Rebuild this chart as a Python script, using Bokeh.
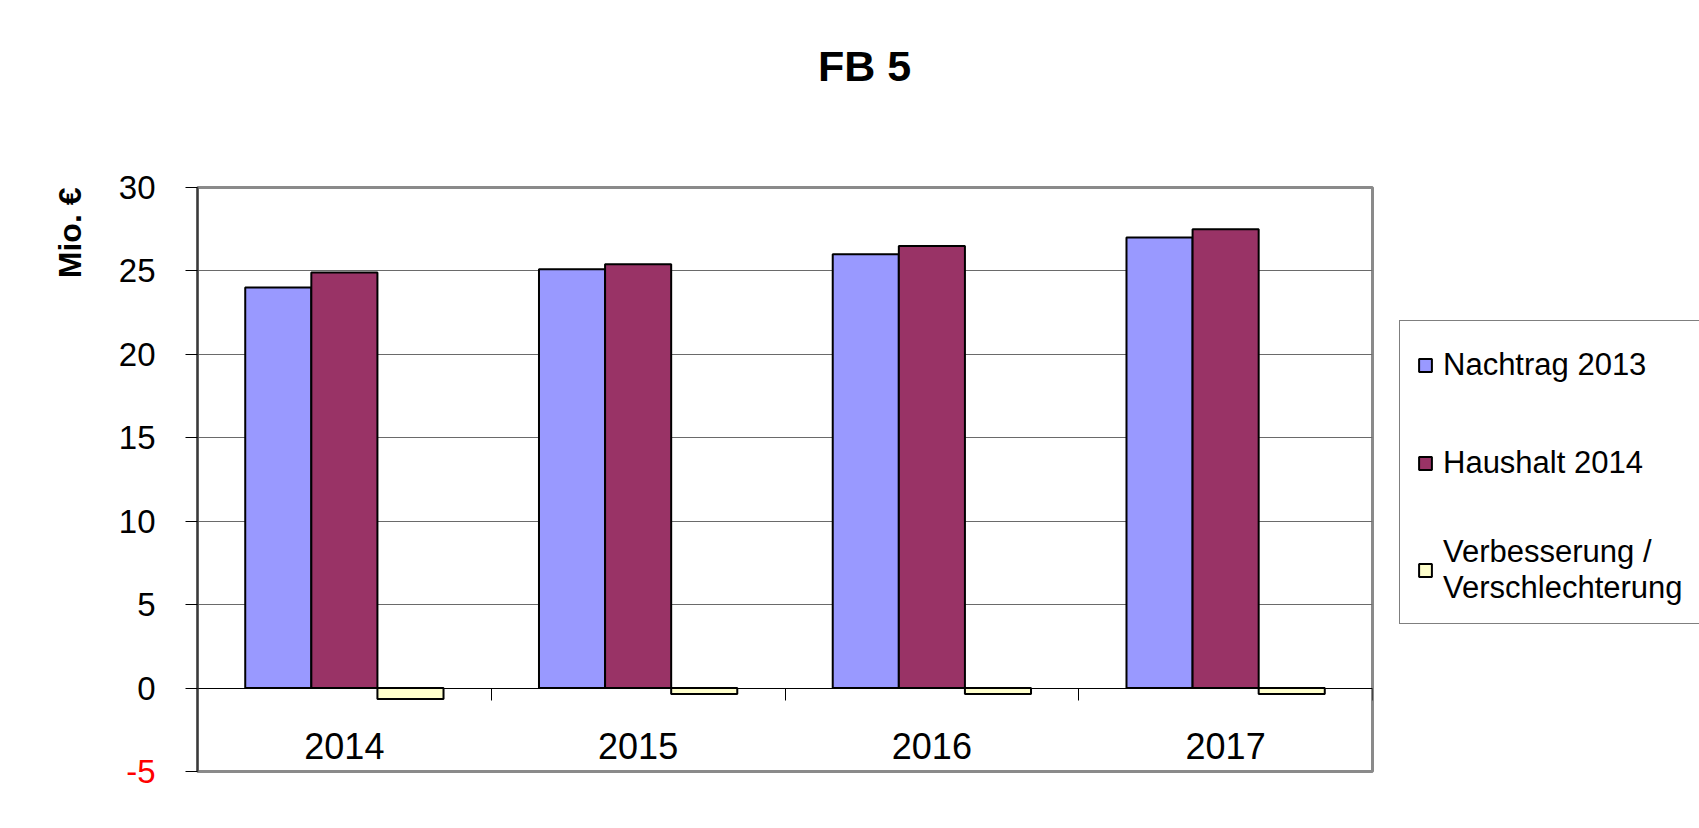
from bokeh.plotting import figure
from bokeh.layouts import row
from bokeh.models import (Range1d, FixedTicker, Legend, LegendItem, Label,
                          ColumnDataSource, Title)
from bokeh.transform import dodge
from bokeh.embed import file_html
from bokeh.resources import INLINE

# ---- data ----
years = ["2014", "2015", "2016", "2017"]
nachtrag_2013 = [24.0, 25.1, 26.0, 27.0]
haushalt_2014 = [24.9, 25.4, 26.5, 27.5]
verbesserung = [-0.65, -0.35, -0.35, -0.35]
y_ticks = [-5, 0, 5, 10, 15, 20, 25, 30]
series_names = ["Nachtrag 2013", "Haushalt 2014", "Verbesserung /\nVerschlechterung"]
series_colors = ["#9999FF", "#993366", "#FFFFCC"]
chart_title = "FB 5"
y_title = "Mio. €"

FONT = "Liberation Sans"
BW = 0.225
CHART_W, LEG_W, H = 1390, 309, 828

centers = [i + 0.5 for i in range(len(years))]
bounds = [i + 1 for i in range(len(years))]
src = ColumnDataSource(dict(xc=centers, n=nachtrag_2013, h=haushalt_2014, v=verbesserung))
fields = ["n", "h", "v"]
offsets = [-BW, 0, BW]

p = figure(width=CHART_W, height=H, output_backend="svg", toolbar_location=None,
           x_range=Range1d(0, len(years)), y_range=Range1d(min(y_ticks), max(y_ticks)),
           min_border_left=197, min_border_right=18, min_border_top=187, min_border_bottom=57)
p.background_fill_color = "white"
p.border_fill_color = "white"
p.outline_line_color = "#8a8a8a"
p.outline_line_width = 3

for field, off, col in zip(fields, offsets, series_colors):
    p.vbar(x=dodge("xc", off, range=p.x_range), top=field, bottom=0, width=BW,
           source=src, fill_color=col, line_color="black", line_width=2)

# grid
p.xgrid.visible = False
p.ygrid.ticker = FixedTicker(ticks=y_ticks)
p.ygrid.grid_line_color = "#6a6a6a"
p.ygrid.grid_line_width = 1

# y axis
ya = p.yaxis[0]
ya.ticker = FixedTicker(ticks=y_ticks)
ya.major_label_overrides = {t: "" for t in y_ticks if t < 0}
ya.axis_line_color = "#3a3a3a"
ya.axis_line_width = 2
ya.major_tick_in = 0
ya.major_tick_out = 12
ya.major_tick_line_color = "black"
ya.minor_tick_line_color = None
ya.major_label_text_font = FONT
ya.major_label_text_font_size = "33px"
ya.major_label_text_color = "black"
ya.major_label_standoff = 30

# negative tick label in red
for t in [t for t in y_ticks if t < 0]:
    p.add_layout(Label(x=-42, y=t, x_units="screen", y_units="data", text=str(t),
                       text_color="#FF0000", text_font=FONT, text_font_size="33px",
                       text_align="right", text_baseline="middle"), "below")

# y axis title at top of the axis
yt = Title(text=y_title, align="right", standoff=56, text_color="black",
           text_font=FONT, text_font_size="32px", text_font_style="bold")
p.add_layout(yt, "left")

# x axis pinned to zero
xa = p.xaxis[0]
xa.fixed_location = 0
xa.ticker = FixedTicker(ticks=centers, minor_ticks=bounds)
xa.major_label_overrides = {c: y for c, y in zip(centers, years)}
xa.axis_line_color = "black"
xa.axis_line_width = 1.2
xa.major_tick_line_color = None
xa.major_tick_in = 0
xa.major_tick_out = 0
xa.minor_tick_line_color = "black"
xa.minor_tick_line_width = 1
xa.minor_tick_in = 0
xa.minor_tick_out = 12
xa.major_label_text_font = FONT
xa.major_label_text_font_size = "36px"
xa.major_label_text_color = "black"
xa.major_label_standoff = 33

# chart title
p.add_layout(Label(x=667, y=122, x_units="screen", y_units="screen", text=chart_title,
                   text_color="black", text_font=FONT, text_font_size="43px",
                   text_font_style="bold", text_align="center", text_baseline="middle"),
             "above")

# ---- legend panel (same series, renderers hidden; only their legend swatches show) ----
q = figure(width=LEG_W, height=H, output_backend="svg", toolbar_location=None,
           x_range=Range1d(0, len(years)), y_range=Range1d(min(y_ticks), max(y_ticks)),
           min_border_left=0, min_border_right=0, min_border_top=0, min_border_bottom=0)
q.axis.visible = False
q.grid.visible = False
q.outline_line_color = None
q.background_fill_color = "white"
q.border_fill_color = "white"
leg_rs = [q.vbar(x=dodge("xc", off, range=q.x_range), top=field, bottom=0, width=BW,
                 source=src, fill_color=col, line_color="black", line_width=2, visible=False)
          for field, off, col in zip(fields, offsets, series_colors)]

legend = Legend(items=[LegendItem(label=n, renderers=[r]) for n, r in zip(series_names, leg_rs)],
                location=(9, 147))
legend.label_text_font = FONT
legend.label_text_font_size = "31px"
legend.label_text_color = "black"
legend.label_height = 53
legend.glyph_width = 16
legend.glyph_height = 16
legend.label_standoff = 10
legend.padding = 17
legend.spacing = 45
legend.margin = 0
legend.inactive_fill_alpha = 0
legend.border_line_color = "black"
legend.border_line_width = 1
legend.background_fill_color = "white"
legend.background_fill_alpha = 1
q.add_layout(legend, "center")

layout = row(p, q, spacing=0)
open("out.html", "w").write(file_html(layout, INLINE))
